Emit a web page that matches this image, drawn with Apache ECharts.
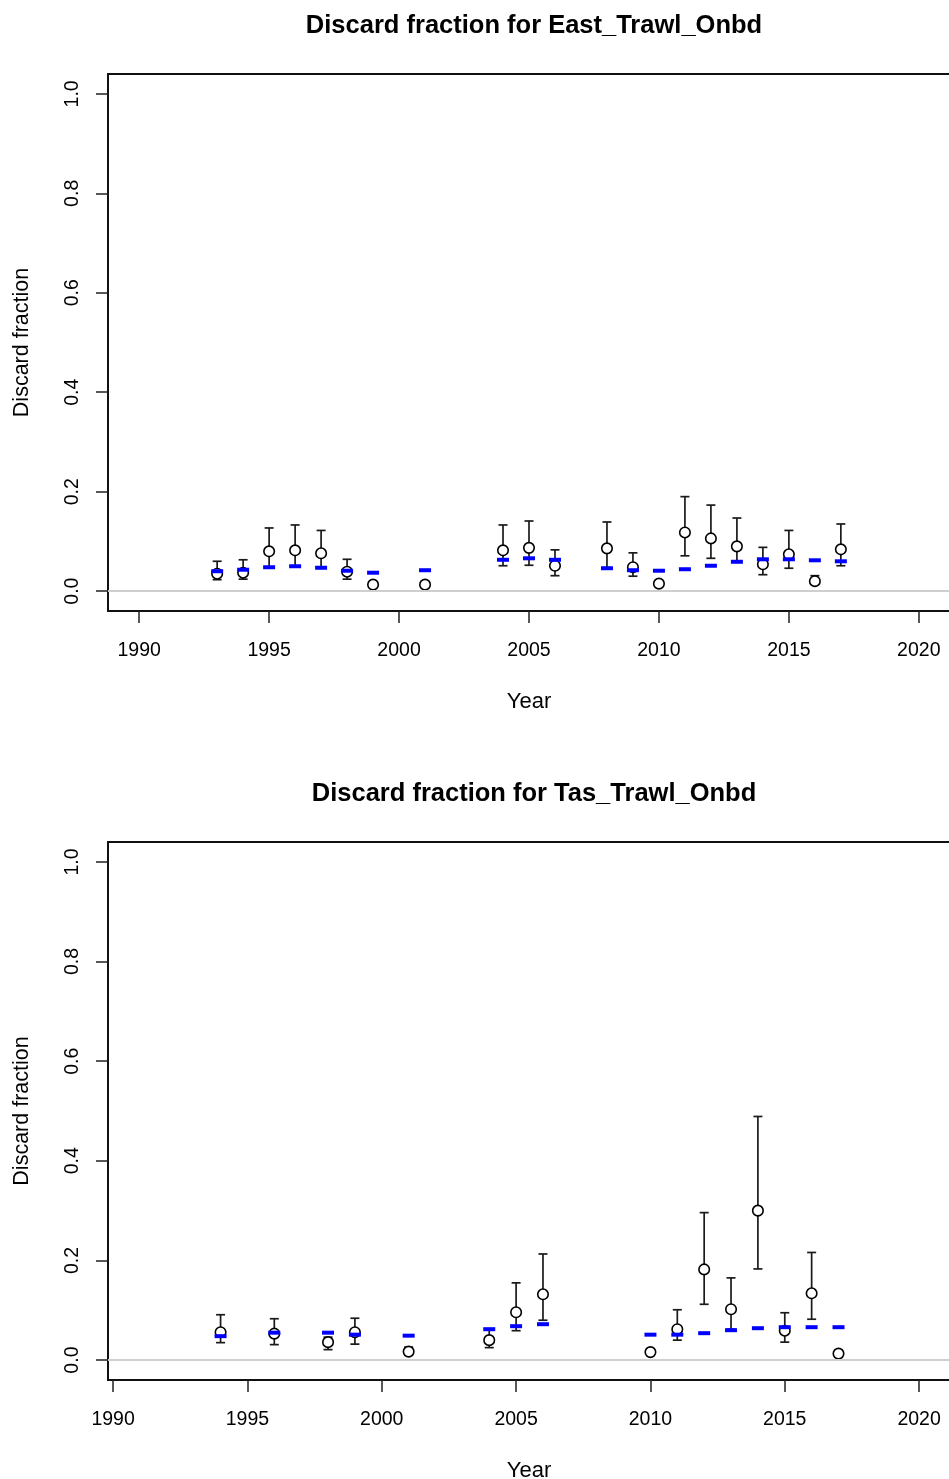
<!DOCTYPE html>
<html>
<head>
<meta charset="utf-8">
<script src="https://cdn.jsdelivr.net/npm/echarts@6/dist/echarts.min.js"></script>
<style>
  html, body { margin: 0; padding: 0; background: #fff; }
  #main { width: 949px; height: 1479px; }
</style>
</head>
<body>
<div id="main"></div>
<script>
// East_Trawl_Onbd
var eastYears = [1993, 1994, 1995, 1996, 1997, 1998, 1999, 2001, 2004, 2005, 2006, 2008, 2009, 2010, 2011, 2012, 2013, 2014, 2015, 2016, 2017];
var eastObs = [0.035, 0.037, 0.080, 0.082, 0.076, 0.039, 0.013, 0.013, 0.082, 0.087, 0.051, 0.086, 0.048, 0.015, 0.118, 0.106, 0.090, 0.054, 0.074, 0.020, 0.084];
var eastLo = [0.023, 0.024, 0.047, 0.049, 0.046, 0.024, 0.013, 0.013, 0.051, 0.052, 0.031, 0.047, 0.030, 0.015, 0.071, 0.066, 0.059, 0.033, 0.046, 0.016, 0.051];
var eastHi = [0.060, 0.063, 0.127, 0.133, 0.122, 0.064, 0.013, 0.013, 0.133, 0.141, 0.083, 0.139, 0.077, 0.015, 0.190, 0.173, 0.147, 0.088, 0.122, 0.031, 0.135];
var eastExp = [0.040, 0.043, 0.048, 0.050, 0.047, 0.041, 0.037, 0.042, 0.063, 0.066, 0.063, 0.046, 0.042, 0.041, 0.044, 0.051, 0.059, 0.064, 0.064, 0.062, 0.060];

// Tas_Trawl_Onbd
var tasYears = [1994, 1996, 1998, 1999, 2001, 2004, 2005, 2006, 2010, 2011, 2012, 2013, 2014, 2015, 2016, 2017];
var tasObs = [0.056, 0.053, 0.036, 0.056, 0.017, 0.040, 0.096, 0.132, 0.016, 0.062, 0.182, 0.102, 0.300, 0.059, 0.134, 0.013];
var tasLo = [0.035, 0.031, 0.021, 0.032, 0.017, 0.025, 0.059, 0.080, 0.016, 0.040, 0.112, 0.062, 0.183, 0.036, 0.082, 0.013];
var tasHi = [0.091, 0.083, 0.046, 0.084, 0.026, 0.060, 0.155, 0.213, 0.016, 0.101, 0.296, 0.165, 0.489, 0.095, 0.216, 0.020];
var tasExp = [0.048, 0.055, 0.055, 0.051, 0.049, 0.062, 0.068, 0.072, 0.051, 0.051, 0.054, 0.060, 0.064, 0.066, 0.066, 0.066];

var xTicks = [1990, 1995, 2000, 2005, 2010, 2015, 2020];
var yTicks = [0, 0.2, 0.4, 0.6, 0.8, 1.0];

var FONT = '"Liberation Sans", Arial, sans-serif';

function pairs(xs, ys) {
    return xs.map(function(x, i) { return [x, ys[i]]; });
}

function triples(xs, lo, hi) {
    return xs.map(function(x, i) { return [x, lo[i], hi[i]]; });
}

function renderBar(params, api) {
    var x = api.value(0);
    var p1 = api.coord([x, api.value(1)]);
    var p2 = api.coord([x, api.value(2)]);
    var w = 4.5;
    var st = { stroke: '#1a1a1a', lineWidth: 1.7 };
    return {
        type: 'group',
        children: [
            { type: 'line', shape: { x1: p1[0], y1: p1[1], x2: p2[0], y2: p2[1] }, style: st },
            { type: 'line', shape: { x1: p1[0] - w, y1: p1[1], x2: p1[0] + w, y2: p1[1] }, style: st },
            { type: 'line', shape: { x1: p2[0] - w, y1: p2[1], x2: p2[0] + w, y2: p2[1] }, style: st }
        ]
    };
}

function xAxisFor(idx, min, max) {
    return {
        type: 'value', gridIndex: idx, min: min, max: max, position: 'bottom',
        name: 'Year', nameLocation: 'middle', nameGap: 80,
        nameTextStyle: { fontFamily: FONT, fontSize: 22, color: '#000' },
        axisLine: { show: false, onZero: false },
        splitLine: { show: false },
        axisTick: { show: true, inside: false, length: 12, customValues: xTicks, lineStyle: { color: '#222', width: 1.5 } },
        axisLabel: {
            customValues: xTicks, margin: 30, fontFamily: FONT, fontSize: 19.5, color: '#000',
            formatter: function(v) { return String(Math.round(v)); }
        }
    };
}

function yAxisFor(idx) {
    return {
        type: 'value', gridIndex: idx, min: -0.04, max: 1.04, position: 'left',
        name: 'Discard fraction', nameLocation: 'middle', nameGap: 75, nameRotate: 90,
        nameTextStyle: { fontFamily: FONT, fontSize: 21.5, color: '#000' },
        axisLine: { show: false, onZero: false },
        splitLine: { show: false },
        axisTick: { show: true, inside: false, length: 12, customValues: yTicks, lineStyle: { color: '#222', width: 1.5 } },
        axisLabel: {
            customValues: yTicks, rotate: 90, margin: 25, fontFamily: FONT, fontSize: 19.5, color: '#000',
            formatter: function(v) { return v.toFixed(1); }
        }
    };
}

function seriesFor(idx, years, obs, lo, hi, exp) {
    return [
        {
            type: 'line', xAxisIndex: idx, yAxisIndex: idx, data: [], silent: true,
            markLine: {
                silent: true, symbol: 'none', label: { show: false },
                lineStyle: { color: '#cfcfcf', width: 2, type: 'solid' },
                data: [{ yAxis: 0 }]
            }
        },
        {
            type: 'custom', xAxisIndex: idx, yAxisIndex: idx,
            renderItem: renderBar, data: triples(years, lo, hi), z: 3
        },
        {
            type: 'scatter', xAxisIndex: idx, yAxisIndex: idx, data: pairs(years, obs),
            symbol: 'circle', symbolSize: 10.5, z: 4,
            itemStyle: { color: '#fff', borderColor: '#000', borderWidth: 1.6, opacity: 1 }
        },
        {
            type: 'scatter', xAxisIndex: idx, yAxisIndex: idx, data: pairs(years, exp),
            symbol: 'rect', symbolSize: [12, 4], z: 5,
            itemStyle: { color: '#0000ff', opacity: 1 }
        }
    ];
}

var chart = echarts.init(document.getElementById('main'), null, { renderer: 'canvas' });

var option = {
    animation: false,
    backgroundColor: '#fff',
    title: [
        {
            text: 'Discard fraction for East_Trawl_Onbd', left: 529, top: 8, textAlign: 'center',
            textStyle: { fontFamily: FONT, fontSize: 25.5, fontWeight: 'bold', color: '#000' }
        },
        {
            text: 'Discard fraction for Tas_Trawl_Onbd', left: 529, top: 776, textAlign: 'center',
            textStyle: { fontFamily: FONT, fontSize: 25.5, fontWeight: 'bold', color: '#000' }
        }
    ],
    grid: [
        { left: 108, top: 74, width: 842, height: 537, outerBoundsMode: 'none', show: true, borderColor: '#111', borderWidth: 2, backgroundColor: 'transparent' },
        { left: 108, top: 842, width: 842, height: 538, outerBoundsMode: 'none', show: true, borderColor: '#111', borderWidth: 2, backgroundColor: 'transparent' }
    ],
    xAxis: [xAxisFor(0, 1988.8, 2021.2), xAxisFor(1, 1989.81, 2021.15)],
    yAxis: [yAxisFor(0), yAxisFor(1)],
    series: seriesFor(0, eastYears, eastObs, eastLo, eastHi, eastExp)
        .concat(seriesFor(1, tasYears, tasObs, tasLo, tasHi, tasExp))
};

chart.setOption(option);
</script>
</body>
</html>
